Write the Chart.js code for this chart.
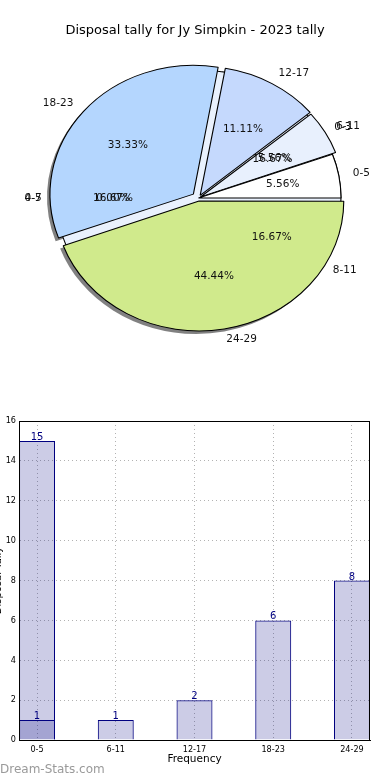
<!DOCTYPE html>
<html>
<head>
<meta charset="utf-8">
<script src="https://cdn.jsdelivr.net/npm/chart.js@4.4.0/dist/chart.umd.min.js"></script>
<style>
body { margin: 0; background: #fff; width: 390px; height: 780px; overflow: hidden; position: relative; font-family: "DejaVu Sans", sans-serif; }
#title { position: absolute; top: 22px; left: 0; width: 390px; text-align: center; font-size: 13px; line-height: 16px; color: #000; z-index: 2; }
#pie { position: absolute; left: 0; top: 0; }
#bar { position: absolute; left: 0; top: 400px; }
#mark { position: absolute; left: 0; top: 762px; font-size: 12px; color: #9a9a9a; }
</style>
</head>
<body>
<div id="title">Disposal tally for Jy Simpkin - 2023 tally</div>
<canvas id="pie" width="390" height="400"></canvas>
<canvas id="bar" width="390" height="380"></canvas>
<div id="mark">Dream-Stats.com</div>
<script>
// data
let ageBands = ['0-5', '6-11', '12-17', '18-23', '24-29'];
let tally2023 = [1, 1, 2, 6, 8];
let otherTally = [15, 0, 0, 0, 0];
let yTicks = [0, 2, 4, 6, 8, 10, 12, 14, 16];

// stray labels of an older pie that show through in the original
let strayNames = ['0-3', '4-7', '0-5', '8-11'];
let strayShares = ['16.67%', '0.00%', '16.67%', '16.67%'];
let strayAngles = [30, 180, 180, 329];

let sliceColors = ['#ffffff', '#e8f0fd', '#c5d9fd', '#b4d6fe', '#d0ea8c'];
let sliceShift = [0, 2, 3, 6, 3];   // px the wedge is pulled out
let squash = 142.5 / 128;            // pie is a bit wider than tall

let total = tally2023.reduce((a, b) => a + b, 0);
let shares = tally2023.map(v => (v / total * 100).toFixed(2) + '%');

// chart.js goes clockwise, the original counter-clockwise from 3 o'clock
const rev = a => a.slice().reverse();

const stretch = (ctx, arc, dx, dy) => {
    ctx.translate(arc.x + dx, arc.y + dy);
    ctx.scale(squash, 1);
    ctx.translate(-arc.x, -arc.y);
};

const pieLook = {
    id: 'pieLook',
    beforeDatasetsDraw(chart) {
        let meta = chart.getDatasetMeta(0);
        let arc0 = meta.data[0];
        let ctx = chart.ctx;
        // shadows, under everything
        ctx.save();
        stretch(ctx, arc0, -3, 3);
        ctx.fillStyle = 'rgba(45,45,45,0.6)';
        meta.data.forEach((arc, i) => {
            let k = ageBands.length - 1 - i;
            let off = sliceShift[k];
            let mid = (arc.startAngle + arc.endAngle) / 2;
            let span = arc.endAngle - arc.startAngle;
            let r = arc.outerRadius + off * (1 - Math.sin(Math.min(Math.PI, span)));
            let cx = arc.x + Math.cos(mid) * off, cy = arc.y + Math.sin(mid) * off;
            ctx.beginPath();
            ctx.moveTo(cx, cy);
            ctx.arc(cx, cy, r, arc.startAngle, arc.endAngle);
            ctx.closePath();
            ctx.fill();
        });
        ctx.restore();
        // pale disc that shows in the gaps
        ctx.save();
        stretch(ctx, arc0, 0, 0);
        ctx.beginPath();
        ctx.arc(arc0.x, arc0.y, arc0.outerRadius, 0, Math.PI * 2);
        ctx.fillStyle = '#e9f1fd';
        ctx.fill();
        ctx.lineWidth = 1;
        ctx.strokeStyle = '#000';
        ctx.stroke();
    },
    afterDatasetsDraw(chart) {
        let ctx = chart.ctx;
        ctx.restore();
        let meta = chart.getDatasetMeta(0);
        let first = meta.data[0];
        let R = first.outerRadius;
        ctx.save();
        ctx.fillStyle = '#111';
        ctx.font = '10.5px "DejaVu Sans"';
        ctx.textBaseline = 'middle';
        const put = (cx, cy, ang, name, pct) => {
            let c = Math.cos(ang), s = Math.sin(ang);
            if (name) {
                ctx.textAlign = c > 0.001 ? 'left' : (c < -0.001 ? 'right' : 'center');
                ctx.fillText(name, cx + c * R * 1.1 * squash, cy + s * R * 1.1);
            }
            if (pct) {
                ctx.textAlign = 'center';
                ctx.fillText(pct, cx + c * R * 0.6 * squash, cy + s * R * 0.6);
            }
        };
        meta.data.forEach((arc, i) => {
            let k = ageBands.length - 1 - i;
            let mid = (arc.startAngle + arc.endAngle) / 2;
            let off = sliceShift[k];
            put(arc.x + Math.cos(mid) * off * squash, arc.y + Math.sin(mid) * off, mid, ageBands[k], shares[k]);
        });
        strayNames.forEach((n, i) => {
            put(first.x, first.y, -strayAngles[i] * Math.PI / 180, n, strayShares[i]);
        });
        ctx.restore();
    }
};

new Chart(document.getElementById('pie'), {
    type: 'pie',
    data: {
        labels: rev(ageBands),
        datasets: [{
            data: rev(tally2023),
            backgroundColor: rev(sliceColors),
            borderColor: '#000',
            borderWidth: 1,
            offset: rev(sliceShift).map(v => v * 4)
        }]
    },
    options: {
        responsive: false,
        animation: false,
        rotation: 90,
        radius: 128,
        layout: { padding: { left: 7, right: 0, top: 0, bottom: 4 } },
        plugins: { legend: { display: false }, tooltip: { enabled: false } }
    },
    plugins: [pieLook]
});

const barExtras = {
    id: 'barExtras',
    afterDatasetsDraw(chart) {
        let ctx = chart.ctx, a = chart.chartArea;
        ctx.save();
        ctx.strokeStyle = '#000';
        ctx.lineWidth = 1;
        ctx.strokeRect(Math.round(a.left) + 0.5, Math.round(a.top) + 0.5, Math.round(a.right - a.left) - 1, Math.round(a.bottom - a.top));
        ctx.fillStyle = '#000080';
        ctx.font = '10px "DejaVu Sans"';
        ctx.textAlign = 'center';
        ctx.textBaseline = 'alphabetic';
        chart.data.datasets.forEach((ds, d) => {
            chart.getDatasetMeta(d).data.forEach((bar, i) => {
                let v = ds.data[i].y;
                if (!v) return;
                ctx.fillText(String(v), bar.x, bar.y - 1);
            });
        });
        ctx.restore();
    }
};

const barFill = 'rgba(0,0,128,0.2)';
const tickFont = { size: 9, family: '"DejaVu Sans Condensed", "DejaVu Sans"' };
new Chart(document.getElementById('bar'), {
    type: 'bar',
    data: {
        datasets: [
            { data: otherTally.map((v, i) => ({ x: i, y: v || null })), backgroundColor: barFill, borderColor: '#000080', borderWidth: 1 },
            { data: tally2023.map((v, i) => ({ x: i, y: v })), backgroundColor: barFill, borderColor: '#000080', borderWidth: 1 }
        ]
    },
    options: {
        responsive: false,
        animation: false,
        layout: { padding: { top: 21, right: 20, left: 0, bottom: 0 } },
        datasets: { bar: { grouped: false, categoryPercentage: 1, barPercentage: 0.457 } },
        plugins: { legend: { display: false }, tooltip: { enabled: false } },
        scales: {
            x: {
                type: 'linear',
                offset: false,
                min: -0.229,
                max: 4.229,
                afterFit(s) { s.height = 40; },
                afterBuildTicks(s) { s.ticks = ageBands.map((b, i) => ({ value: i })); },
                ticks: {
                    autoSkip: false, maxRotation: 0, padding: 4,
                    color: '#000', font: tickFont,
                    callback: v => ageBands[v] ?? ''
                },
                grid: { color: 'rgba(0,0,0,0.3)', drawTicks: false, offset: false },
                border: { color: '#000', dash: [1, 3] },
                title: { display: true, text: 'Frequency', color: '#000', font: { size: 10.5, family: '"DejaVu Sans"' }, padding: { top: 0, bottom: 14 } }
            },
            y: {
                min: 0,
                max: 16,
                afterFit(s) { s.width = 19; },
                afterBuildTicks(s) { s.ticks = yTicks.map(v => ({ value: v })); },
                ticks: { padding: 3, color: '#000', font: tickFont },
                grid: { color: 'rgba(0,0,0,0.3)', drawTicks: false },
                border: { color: '#000', dash: [1, 3] },
                title: { display: true, text: 'Disposal Tally', color: '#000', font: { size: 10, family: '"DejaVu Sans"' }, padding: { top: -8, bottom: 0 } }
            }
        }
    },
    plugins: [barExtras]
});
</script>
</body>
</html>
